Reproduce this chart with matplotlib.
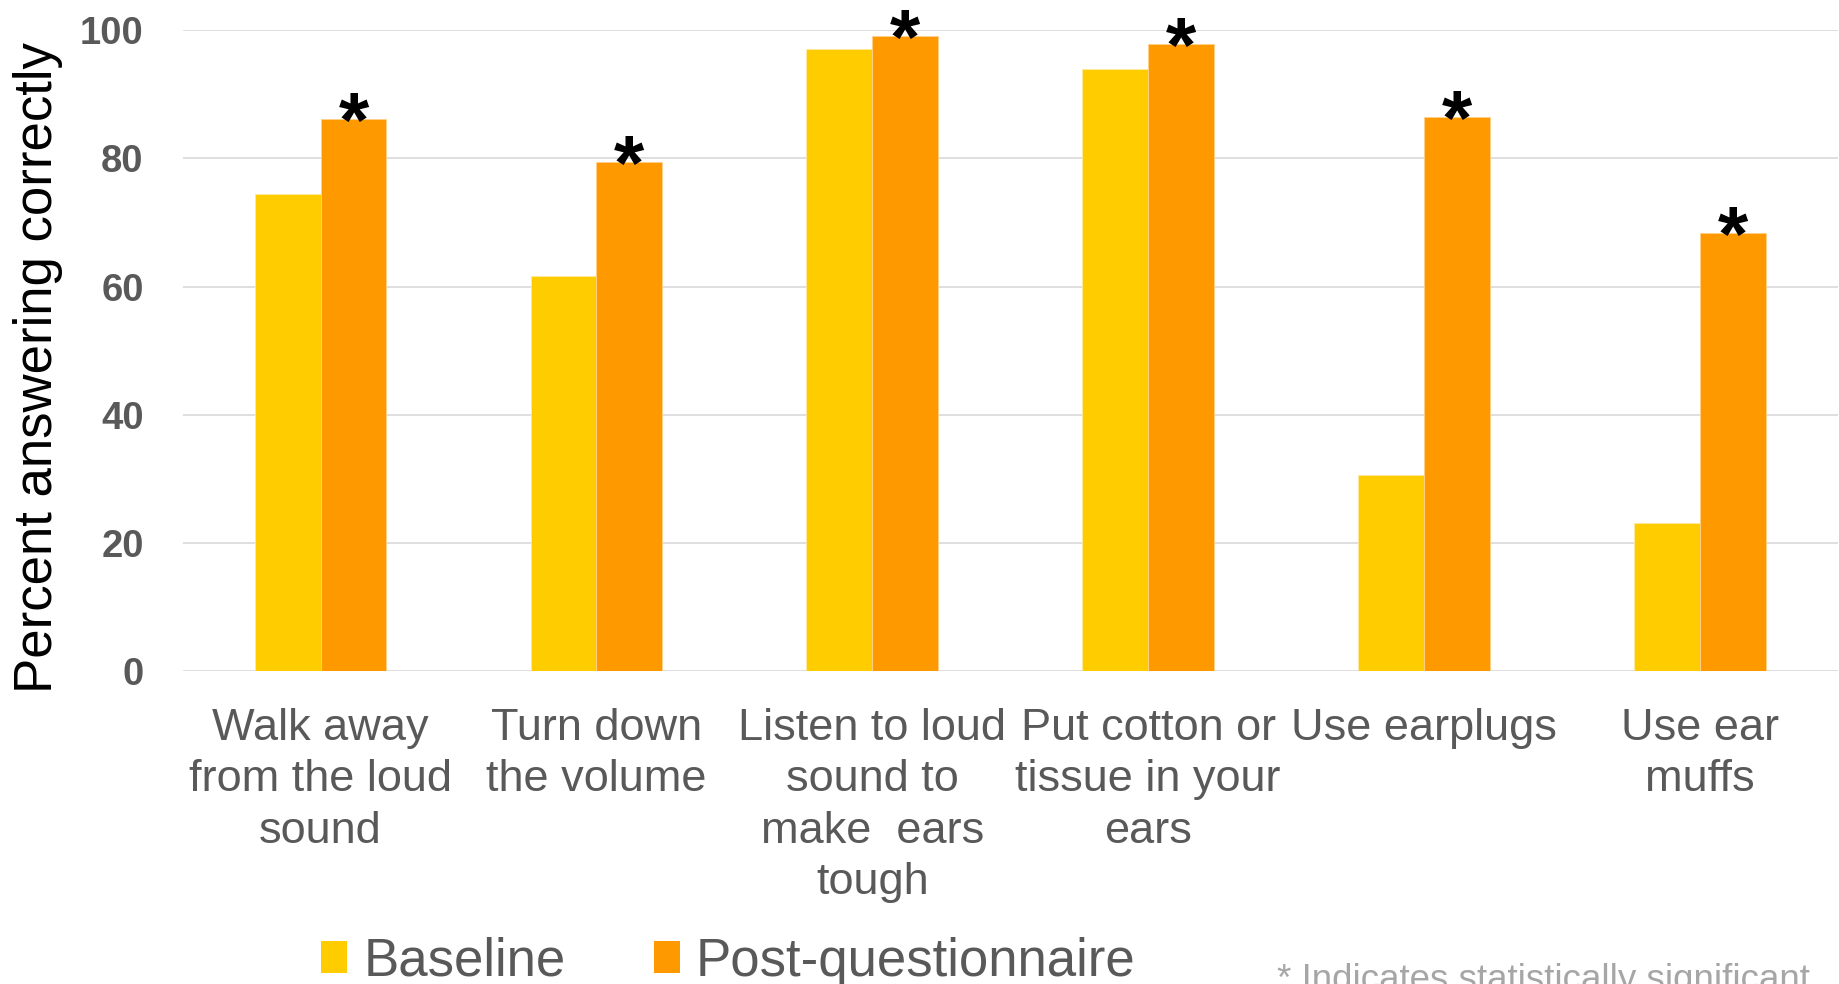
import matplotlib.pyplot as plt
import numpy as np
from matplotlib.patches import Patch

# Kysymykset ja vastausprosentit
categories = ['Walk away\nfrom the loud\nsound', 'Turn down\nthe volume',
              'Listen to loud\nsound to\nmake  ears\ntough',
              'Put cotton or\ntissue in your\nears', 'Use earplugs',
              'Use ear\nmuffs']
baseline = [74.5, 61.7, 97.1, 93.9, 30.6, 23.0]
post = [86.1, 79.4, 99.1, 97.9, 86.4, 68.3]
significant = [True, True, True, True, True, True]
y_ticks = [0, 20, 40, 60, 80, 100]

plt.rcParams['font.family'] = ['Liberation Sans', 'DejaVu Sans']

fig = plt.figure(figsize=(18.39, 9.84), dpi=100)
ax = fig.add_axes([0.0993, 0.3184, 0.9, 0.6507])

x = np.arange(len(categories))
w = 0.2386
ax.bar(x - w / 2, baseline, w, color='#FFCC00', edgecolor='#FFE9A0', linewidth=0.6, zorder=2)
ax.bar(x + w / 2, post, w, color='#FF9900', edgecolor='#FFD08A', linewidth=0.6, zorder=2)

# Tähti merkitsevien erojen päälle
for i, v in enumerate(post):
    if significant[i]:
        ax.annotate('*', (x[i] + w / 2, v), xytext=(0, -20), textcoords='offset points',
                    ha='center', va='baseline', fontsize=56, fontweight='bold',
                    color='black', annotation_clip=False)

ax.set_xlim(-0.5, len(categories) - 0.5)
ax.set_ylim(0, 100)
ax.set_yticks(y_ticks)
ax.set_xticks(x)
ax.set_xticklabels(categories, fontsize=32.5, color='#595959', linespacing=1.32)
ax.tick_params(axis='x', length=0, pad=27)
ax.tick_params(axis='y', length=0, pad=28, labelsize=27.5, labelcolor='#595959')
for lbl in ax.get_yticklabels():
    lbl.set_fontweight('bold')

ax.yaxis.grid(True, color='#D9D9D9', linewidth=1.2, zorder=0)
ax.set_axisbelow(True)
for s in ax.spines.values():
    s.set_visible(False)

fig.text(0.0204, 0.626, 'Percent answering correctly', rotation=90, ha='center',
         va='center', fontsize=38, color='black')

# Selite alareunaan
handles = [Patch(facecolor='#FFCC00', edgecolor='none', label='Baseline'),
           Patch(facecolor='#FF9900', edgecolor='none', label='Post-questionnaire')]
fig.legend(handles=handles, loc='center', bbox_to_anchor=(0.396, 0.0225), ncol=2,
           frameon=False, fontsize=38, labelcolor='#595959', handlelength=0.5,
           handleheight=0.55, handletextpad=0.3, columnspacing=1.67)

# Alaviite jää osittain kuvan alareunan alle
fig.text(0.6945, -0.006, '* Indicates statistically significant', ha='left',
         va='baseline', fontsize=26.5, color='#A6A6A6')

fig.savefig('out.png', dpi=100)
